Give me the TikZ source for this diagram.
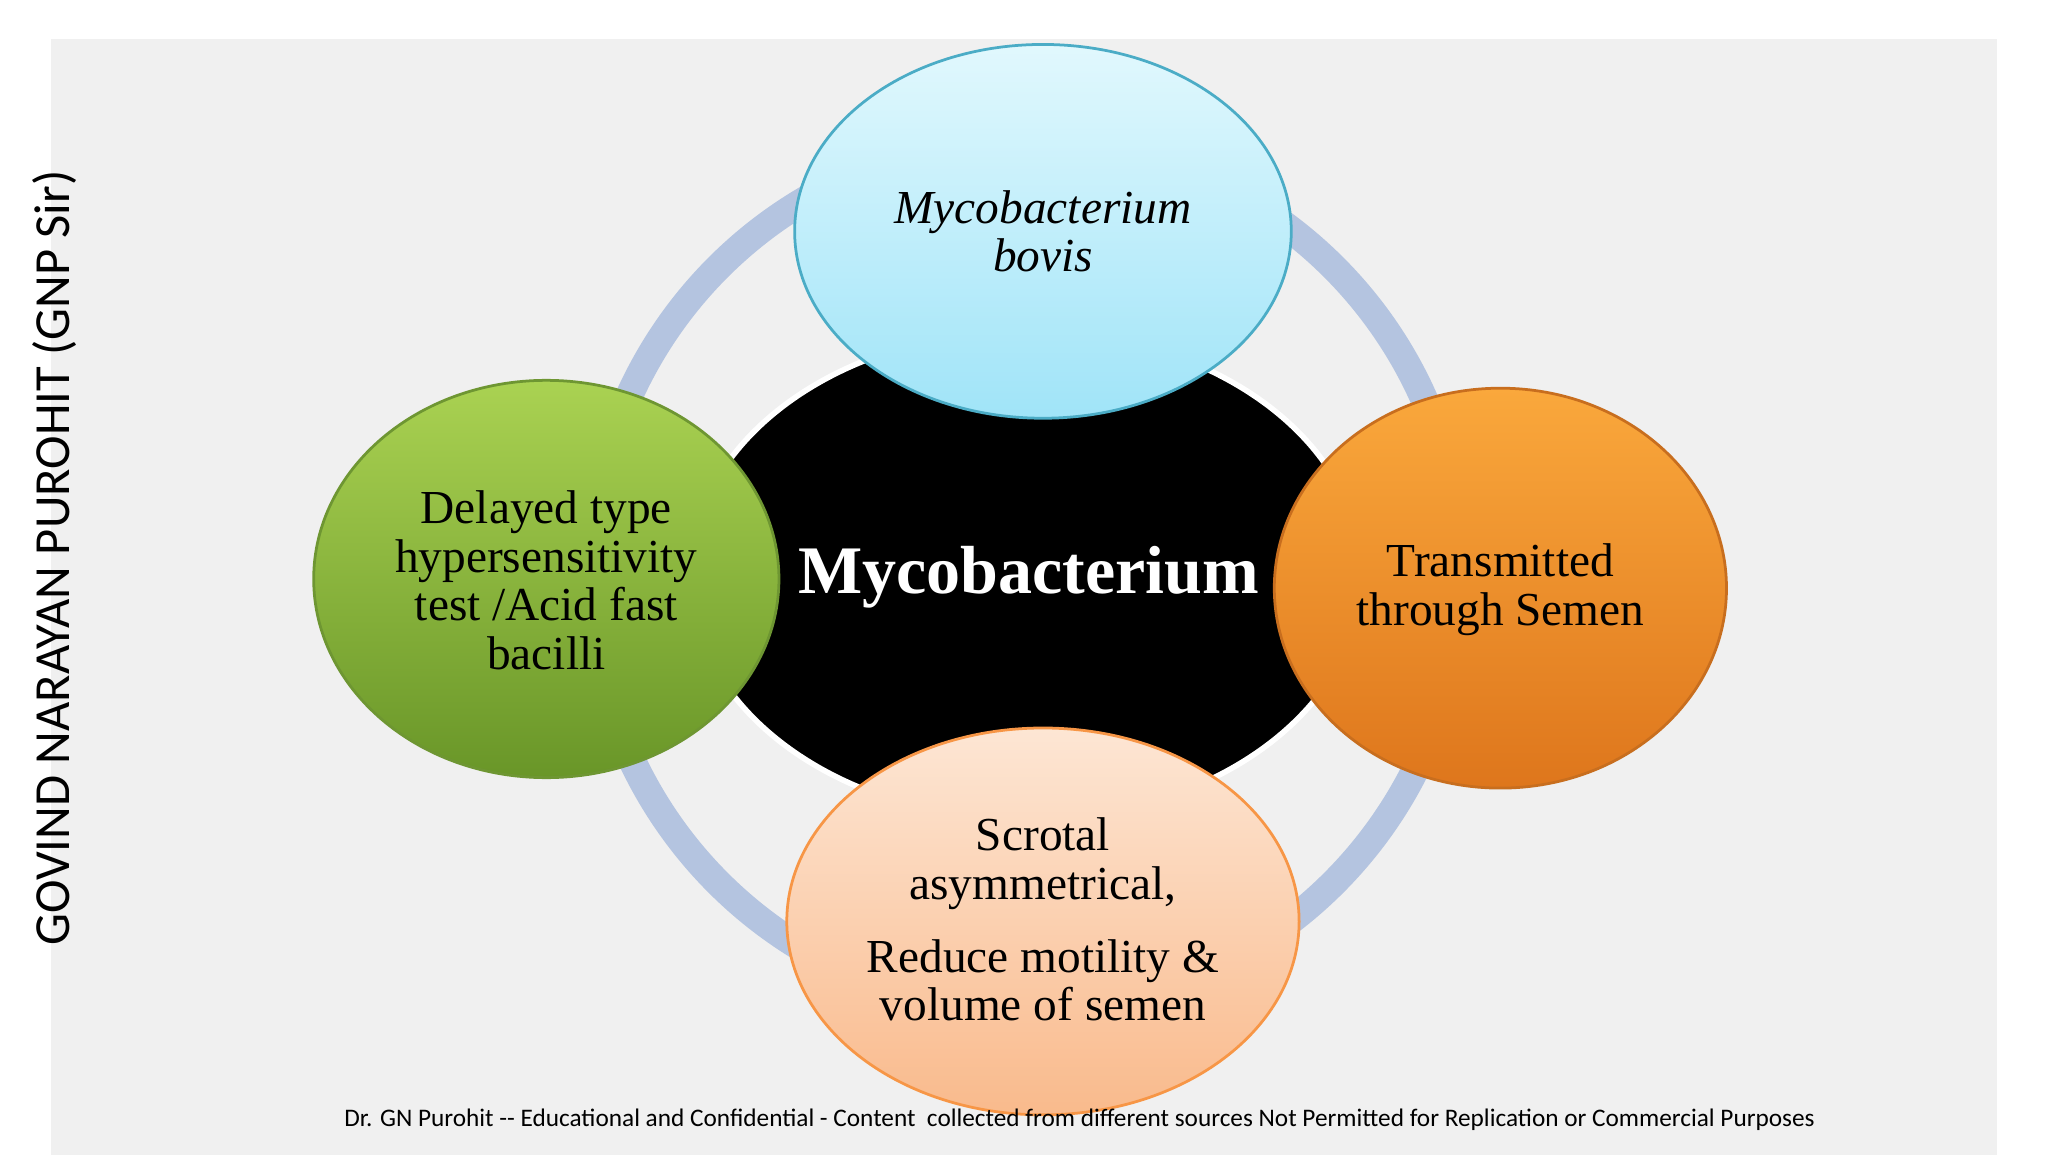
\documentclass[tikz,border=0pt]{standalone}
\usepackage{fontspec}
\setmainfont{Liberation Serif}
\newfontfamily\calib{Carlito}
\usetikzlibrary{shapes.geometric}
\begin{document}
\begin{tikzpicture}[x=0.01cm,y=-0.01cm,
  btxt/.style={align=center,font=\fontsize{10.3}{10.6}\selectfont}]
\useasboundingbox (0,0) rectangle (1567,884);
\fill[white] (0,0) rectangle (1567,884);
\fill[black!6] (39,30) rectangle (1528,884);
\coordinate (c) at (785,440);
\draw[color={rgb,255:red,180;green,196;blue,224},line width=6pt] (c) circle[radius=333];
\fill[black,draw=white,line width=1.2pt] (c) ellipse[x radius=257,y radius=187];
\node[font=\fontsize{14.8}{18}\selectfont\bfseries,text=white] (m) at (787,442) {Mycobacterium};
\shade[top color={rgb,255:red,225;green,248;blue,253},bottom color={rgb,255:red,160;green,228;blue,248},draw={rgb,255:red,75;green,172;blue,198},line width=0.6pt] (798,177) ellipse[x radius=190,y radius=143];
\node[btxt,font=\fontsize{10.3}{10.6}\selectfont\itshape] (t) at (798,177) {Mycobacterium\\bovis};
\shade[top color={rgb,255:red,170;green,210;blue,82},bottom color={rgb,255:red,105;green,150;blue,40},draw={rgb,255:red,110;green,150;blue,50},line width=0.6pt] (418,443) ellipse[x radius=178,y radius=152];
\node[btxt] (l) at (418,444) {Delayed type\\hypersensitivity\\test /Acid fast\\bacilli};
\shade[top color={rgb,255:red,250;green,168;blue,60},bottom color={rgb,255:red,222;green,118;blue,28},draw={rgb,255:red,200;green,110;blue,30},line width=0.6pt] (1148,450) ellipse[x radius=173,y radius=153];
\node[btxt] (r) at (1148,451) {Transmitted\\through Semen};
\shade[top color={rgb,255:red,253;green,230;blue,212},bottom color={rgb,255:red,249;green,186;blue,140},draw={rgb,255:red,247;green,150;blue,70},line width=0.6pt] (798,705) ellipse[x radius=196,y radius=148];
\node[btxt] (b1) at (798,661) {Scrotal\\asymmetrical,};
\node[btxt] (b2) at (798,750) {Reduce motility \&\\volume of semen};
\node[rotate=90,font=\calib\fontsize{11}{12}\selectfont] (side) at (42,427) {GOVIND NARAYAN PUROHIT (GNP Sir)};
\node[font=\calib\fontsize{5.5}{6}\selectfont] (foot) at (826,857) {Dr. GN Purohit -- Educational and Confidential - Content\ \ collected from different sources Not Permitted for Replication or Commercial Purposes};
\end{tikzpicture}
\end{document}
